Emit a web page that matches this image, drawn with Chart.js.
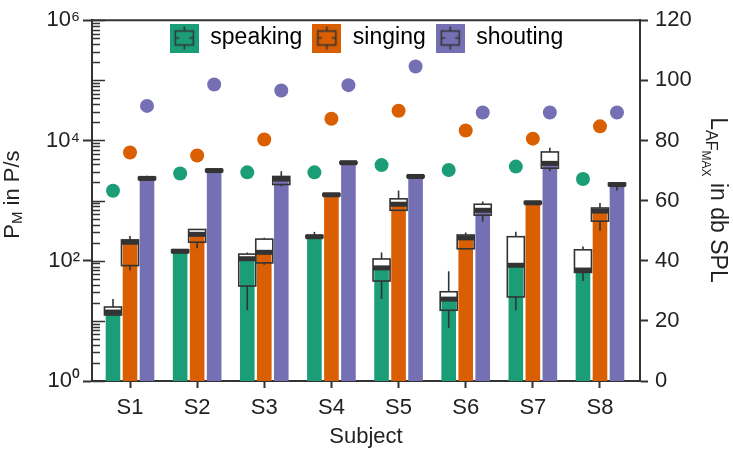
<!DOCTYPE html>
<html>
<head>
<meta charset="utf-8">
<script src="https://cdn.jsdelivr.net/npm/chart.js@4.4.1/dist/chart.umd.min.js"></script>
<style>
  html, body { margin: 0; padding: 0; background: #fff; }
  #wrap { width: 733px; height: 455px; }
</style>
</head>
<body>
<div id="wrap"><canvas id="chart"></canvas></div>
<script>
// Particle emission rate (boxes + median bars, log axis) and LAF max (dots, right axis)
const subjects = ["S1", "S2", "S3", "S4", "S5", "S6", "S7", "S8"];
const seriesNames = ["speaking", "singing", "shouting"];
const colors = ["#1b9e77", "#d95f02", "#7570b3"];

// median = bar height, q1/q3 = box, lo/hi = whiskers (P/s)
const speakingMed = [14, 144, 108, 251, 76, 23, 84, 70];
const speakingQ1 = [12.5, 137, 38, 242, 46, 15, 25, 64];
const speakingQ3 = [17, 152, 129, 262, 107, 30.5, 251, 152];
const speakingLo = [12.5, 137, 15, 242, 23, 7.6, 15, 46];
const speakingHi = [23, 152, 137, 302, 137, 67, 302, 172];

const singingMed = [203, 275, 138, 1250, 870, 240, 920, 670];
const singingQ1 = [83, 203, 92, 1200, 690, 158, 890, 455];
const singingQ3 = [222, 331, 229, 1300, 1070, 268, 960, 753];
const singingLo = [69, 162, 86, 1200, 690, 158, 890, 315];
const singingHi = [257, 331, 240, 1300, 1470, 295, 980, 910];

const shoutingMed = [2340, 3160, 2280, 4270, 2520, 690, 4160, 1850];
const shoutingQ1 = [2250, 3050, 1850, 4150, 2450, 573, 3460, 1780];
const shoutingQ3 = [2450, 3280, 2520, 4400, 2600, 870, 6440, 1950];
const shoutingLo = [2250, 3050, 1735, 4150, 2450, 443, 3070, 1470];
const shoutingHi = [2580, 3280, 3070, 4400, 2600, 970, 7560, 2000];

// LAF max in dB SPL (right axis)
const speakingDb = [63.3, 69, 69.4, 69.4, 71.8, 70.2, 71.3, 67.2];
const singingDb = [76, 75, 80.3, 87.2, 89.9, 83.3, 80.6, 84.7];
const shoutingDb = [91.5, 98.6, 96.6, 98.4, 104.6, 89.3, 89.3, 89.3];

const leftTickValues = [1, 100, 10000, 1000000];
const leftTickLabels = ["10⁰", "10²", "10⁴", "10⁶"];
const rightTicks = [0, 20, 40, 60, 80, 100, 120];

const medians = [speakingMed, singingMed, shoutingMed];
const boxSets = [
  { q1: speakingQ1, q3: speakingQ3, lo: speakingLo, hi: speakingHi, med: speakingMed },
  { q1: singingQ1, q3: singingQ3, lo: singingLo, hi: singingHi, med: singingMed },
  { q1: shoutingQ1, q3: shoutingQ3, lo: shoutingLo, hi: shoutingHi, med: shoutingMed },
];
const dbSeries = [speakingDb, singingDb, shoutingDb];

const CAT_PCT = 0.76;
const FONT = "'Liberation Sans', Arial, Helvetica, sans-serif";
const INK = "#222";
const LINE = "#333";

function legendGlyph(color) {
  const c = document.createElement("canvas");
  c.width = 29;
  c.height = 29;
  const g = c.getContext("2d");
  g.fillStyle = color;
  g.fillRect(0, 0, 29, 29);
  g.strokeStyle = "#333";
  g.lineWidth = 1.5;
  g.strokeRect(5.5, 7.5, 18, 14);
  g.beginPath();
  g.moveTo(14.5, 3); g.lineTo(14.5, 7.5);
  g.moveTo(14.5, 21.5); g.lineTo(14.5, 26);
  g.moveTo(5.5, 14.5); g.lineTo(9.5, 14.5);
  g.moveTo(19.5, 14.5); g.lineTo(23.5, 14.5);
  g.stroke();
  return c;
}
const glyphs = colors.map(legendGlyph);

// runs of text with size / baseline shift, drawn along a rotated axis
function drawRuns(ctx, runs, cx, cy, rot) {
  ctx.save();
  ctx.translate(cx, cy);
  ctx.rotate(rot);
  ctx.fillStyle = INK;
  ctx.textBaseline = "alphabetic";
  ctx.textAlign = "left";
  let total = 0;
  runs.forEach((r) => { ctx.font = `${r.size}px ${FONT}`; total += ctx.measureText(r.text).width; });
  let x = -total / 2;
  runs.forEach((r) => {
    ctx.font = `${r.size}px ${FONT}`;
    ctx.fillText(r.text, x, r.dy);
    x += ctx.measureText(r.text).width;
  });
  ctx.restore();
}

const boxPlugin = {
  id: "boxes",
  afterLayout(chart) {
    // legend sits inside the plot frame
    const lg = chart.legend;
    const h = lg.height;
    lg.top = 16.5;
    lg.bottom = 16.5 + h;
  },
  beforeDatasetsDraw(chart) {
    const ctx = chart.ctx;
    const y = chart.scales.y;
    ctx.save();
    ctx.fillStyle = "#fff";
    boxSets.forEach((b, k) => {
      chart.getDatasetMeta(k).data.forEach((bar, j) => {
        const half = bar.width / 2 + 1.2;
        const t = y.getPixelForValue(b.q3[j]);
        const btm = y.getPixelForValue(b.q1[j]);
        ctx.fillRect(bar.x - half, t, half * 2, btm - t);
      });
    });
    ctx.restore();
  },
  afterDatasetDraw(chart, args) {
    const k = args.index;
    if (k > 2) return;
    const ctx = chart.ctx;
    const y = chart.scales.y;
    const b = boxSets[k];
    ctx.save();
    ctx.strokeStyle = LINE;
    ctx.fillStyle = LINE;
    ctx.lineWidth = 1.6;
    chart.getDatasetMeta(k).data.forEach((bar, j) => {
      const half = bar.width / 2 + 1.2;
      const x = bar.x;
      const t = y.getPixelForValue(b.q3[j]);
      const btm = y.getPixelForValue(b.q1[j]);
      const hi = y.getPixelForValue(b.hi[j]);
      const lo = y.getPixelForValue(b.lo[j]);
      const med = y.getPixelForValue(b.med[j]);
      ctx.beginPath();
      ctx.moveTo(x, hi); ctx.lineTo(x, t);
      ctx.moveTo(x, btm); ctx.lineTo(x, lo);
      ctx.stroke();
      ctx.strokeRect(x - half, t, half * 2, btm - t);
      ctx.fillRect(x - half, med - 2.5, half * 2, 5);
    });
    ctx.restore();
  },
  afterDraw(chart) {
    const ctx = chart.ctx;
    const a = chart.chartArea;
    const y = chart.scales.y;
    ctx.save();
    ctx.strokeStyle = LINE;
    ctx.lineWidth = 2;
    ctx.beginPath();
    ctx.moveTo(a.left - 1, a.top);
    ctx.lineTo(a.right + 1, a.top);
    ctx.stroke();
    // inward minor ticks of the log axis
    ctx.lineWidth = 1.5;
    ctx.beginPath();
    y.ticks.forEach((t) => {
      const py = Math.round(y.getPixelForValue(t.value)) + 0.5;
      const dec = Math.abs(Math.log10(t.value) - Math.round(Math.log10(t.value))) < 1e-9;
      const len = dec ? 13 : 8;
      ctx.moveTo(a.left, py);
      ctx.lineTo(a.left + len, py);
    });
    ctx.stroke();
    ctx.restore();
    // axis titles with subscripts
    drawRuns(ctx, [
      { text: "P", size: 22, dy: 0 },
      { text: "M", size: 15, dy: 3 },
      { text: " in P/s", size: 22, dy: 0 },
    ], 19, (a.top + a.bottom) / 2 - 6, -Math.PI / 2);
    drawRuns(ctx, [
      { text: "L", size: 23, dy: 0 },
      { text: "AF", size: 16, dy: 5 },
      { text: "MAX", size: 12, dy: 9 },
      { text: " in db SPL", size: 23, dy: 0 },
    ], 711, 200, Math.PI / 2);
  },
};

const datasets = [];
seriesNames.forEach((name, k) => {
  datasets.push({
    type: "bar",
    label: name,
    data: medians[k].map((v, i) => ({ x: i + 1, y: v })),
    backgroundColor: colors[k],
    borderWidth: 0,
    yAxisID: "y",
    xAxisID: "x",
    categoryPercentage: CAT_PCT,
    barPercentage: 0.86,
  });
});
seriesNames.forEach((name, k) => {
  datasets.push({
    type: "scatter",
    label: name + " LAF",
    data: dbSeries[k].map((v, i) => ({ x: i + 1 + (k - 1) * CAT_PCT / 3, y: v })),
    backgroundColor: colors[k],
    pointBackgroundColor: colors[k],
    pointRadius: 7,
    pointHoverRadius: 7,
    pointBorderWidth: 0,
    showLine: false,
    yAxisID: "y2",
    xAxisID: "x",
  });
});

const minorLogTicks = [];
for (let e = 0; e < 6; e++) {
  for (let m = 1; m < 10; m++) minorLogTicks.push(m * Math.pow(10, e));
}
minorLogTicks.push(1e6);

new Chart(document.getElementById("chart"), {
  type: "bar",
  data: { datasets },
  plugins: [boxPlugin],
  options: {
    responsive: true,
    maintainAspectRatio: false,
    animation: false,
    layout: { padding: { top: 16 - 43, left: 0, right: 0, bottom: 0 } },
    font: { family: FONT },
    plugins: {
      tooltip: { enabled: false },
      legend: {
        position: "top",
        align: "center",
        labels: {
          usePointStyle: true,
          pointStyleWidth: 29,
          boxHeight: 29,
          padding: 10,
          color: INK,
          font: { family: FONT, size: 23 },
          generateLabels: () => seriesNames.map((name, k) => ({
            text: name,
            fillStyle: colors[k],
            strokeStyle: colors[k],
            lineWidth: 0,
            pointStyle: glyphs[k],
            hidden: false,
            datasetIndex: k,
          })),
        },
      },
    },
    scales: {
      x: {
        type: "linear",
        position: "bottom",
        offset: false,
        min: 0.434,
        max: 8.596,
        afterBuildTicks: (s) => { s.ticks = subjects.map((_, i) => ({ value: i + 1 })); },
        afterFit: (s) => { s.height = 74; },
        ticks: {
          autoSkip: false,
          maxRotation: 0,
          padding: 7,
          color: INK,
          font: { family: FONT, size: 22 },
          callback: (v) => subjects[v - 1] || "",
        },
        grid: { offset: false, drawOnChartArea: false, drawTicks: true, tickLength: 7, tickWidth: 2, color: LINE },
        border: { display: true, color: LINE, width: 2 },
        title: { display: true, text: "Subject", color: INK, font: { family: FONT, size: 22 }, padding: { top: 0, bottom: 5 } },
      },
      y: {
        type: "logarithmic",
        position: "left",
        min: 1,
        max: 1e6,
        afterBuildTicks: (s) => { s.ticks = minorLogTicks.map((v) => ({ value: v })); },
        afterFit: (s) => { s.width = 92; },
        ticks: {
          autoSkip: false,
          padding: 3,
          color: INK,
          font: { family: FONT, size: 22 },
          callback: (v) => {
            const i = leftTickValues.indexOf(v);
            return i >= 0 ? leftTickLabels[i] : "";
          },
        },
        grid: {
          drawOnChartArea: false,
          drawTicks: true,
          tickLength: 9,
          tickWidth: 2,
          color: (c) => (c.tick && leftTickValues.includes(c.tick.value) ? LINE : "rgba(0,0,0,0)"),
        },
        border: { display: true, color: LINE, width: 2 },
      },
      y2: {
        type: "linear",
        position: "right",
        min: 0,
        max: 120,
        afterBuildTicks: (s) => { s.ticks = rightTicks.map((v) => ({ value: v })); },
        afterFit: (s) => { s.width = 93; },
        ticks: { padding: 7, color: INK, font: { family: FONT, size: 22 } },
        grid: { drawOnChartArea: false, drawTicks: true, tickLength: 8, tickWidth: 2, color: LINE },
        border: { display: true, color: LINE, width: 2 },
      },
    },
  },
});
</script>
</body>
</html>
